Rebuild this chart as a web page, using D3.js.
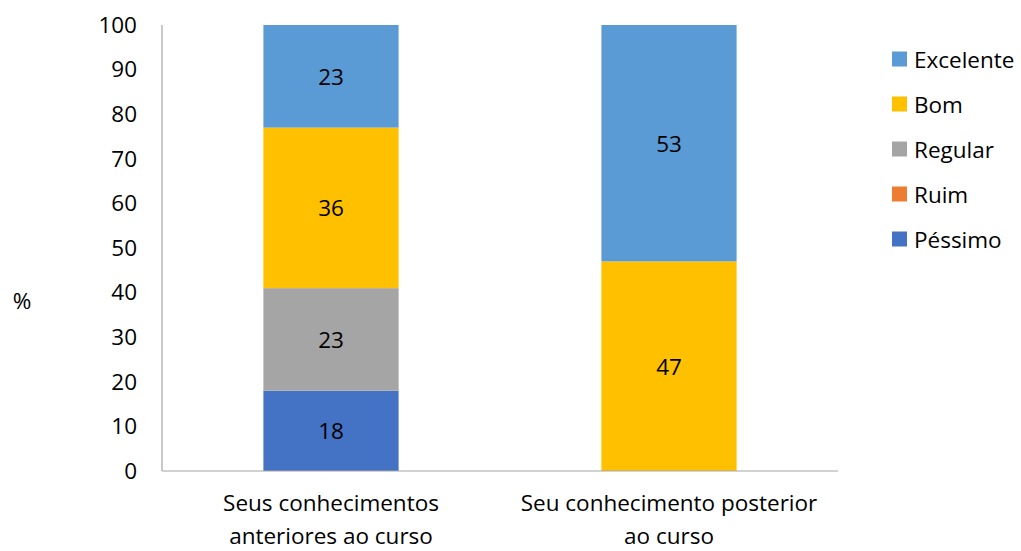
<!DOCTYPE html>
<html><head><meta charset="utf-8">
<script src="https://cdn.jsdelivr.net/npm/d3@7"></script>
<style>body{margin:0;background:#fff}svg{display:block}text{font-family:"Open Sans",sans-serif;fill:#000}</style>
</head><body><svg id="c" width="1021" height="551"></svg>
<script>
const categories = [["Seus conhecimentos","anteriores ao curso"],["Seu conhecimento posterior","ao curso"]];
const seriesNames = ["Péssimo","Ruim","Regular","Bom","Excelente"];
const pessimo = [18, 0];
const ruim = [0, 0];
const regular = [23, 0];
const bom = [36, 47];
const excelente = [23, 53];
const colors = ["#4472C4","#ED7D31","#A5A5A5","#FFC000","#5B9BD5"];
const yTicks = [0,10,20,30,40,50,60,70,80,90,100];

const FS = 22.5;
const values = [pessimo, ruim, regular, bom, excelente];
const rows = categories.map((c,i)=>{const r={idx:i}; seriesNames.forEach((s,j)=>r[s]=values[j][i]); return r;});
const stack = d3.stack().keys(seriesNames)(rows);

const svg = d3.select("#c");
const m = {l:162, r:838, t:25, b:471};
const x = d3.scaleBand().domain(d3.range(categories.length)).range([m.l, m.r]).paddingInner(0.6).paddingOuter(0.3);
const y = d3.scaleLinear().domain([0,100]).range([m.b, m.t]);

// y tick labels
const ya = svg.append("g").attr("transform",`translate(${m.l},0)`).call(d3.axisLeft(y).tickValues(yTicks).tickSize(0).tickPadding(25));
ya.select(".domain").remove();
ya.selectAll("text").attr("font-size",FS).attr("font-family","Open Sans").attr("fill","#000");

// bars
stack.forEach((layer,j)=>{
  svg.append("g").selectAll("rect").data(layer.filter(d=>d[1]-d[0]>0)).join("rect")
    .attr("x",d=>x(d.data.idx)).attr("width",x.bandwidth())
    .attr("y",d=>y(d[1])).attr("height",d=>y(d[0])-y(d[1]))
    .attr("fill",colors[j]);
  svg.append("g").selectAll("text").data(layer.filter(d=>d[1]-d[0]>0)).join("text")
    .attr("x",d=>x(d.data.idx)+x.bandwidth()/2).attr("y",d=>y((d[0]+d[1])/2))
    .attr("text-anchor","middle").attr("dominant-baseline","central")
    .attr("font-size",FS).text(d=>d[1]-d[0]);
});

// axis lines
svg.append("line").attr("x1",m.l).attr("x2",m.l).attr("y1",m.t).attr("y2",m.b).attr("stroke","#a6a6a6").attr("stroke-width",1.2);
svg.append("line").attr("x1",m.l).attr("x2",m.r).attr("y1",m.b).attr("y2",m.b).attr("stroke","#a6a6a6").attr("stroke-width",1.2);

// category labels
categories.forEach((lines,i)=>{
  const t = svg.append("text").attr("text-anchor","middle").attr("font-size",FS)
    .attr("x",x(i)+x.bandwidth()/2);
  lines.forEach((ln,k)=>t.append("tspan").attr("x",x(i)+x.bandwidth()/2).attr("y",511+k*33).text(ln));
});

// y label
svg.append("text").attr("x",22).attr("y",300).attr("text-anchor","middle").attr("dominant-baseline","central").attr("font-size",FS).text("%");

// legend
const legendOrder = ["Excelente","Bom","Regular","Ruim","Péssimo"];
legendOrder.forEach((s,k)=>{
  const cy = 59 + k*45;
  svg.append("rect").attr("x",892).attr("y",cy-7.5).attr("width",15).attr("height",15).attr("fill",colors[seriesNames.indexOf(s)]);
  svg.append("text").attr("x",914).attr("y",cy).attr("dominant-baseline","central").attr("font-size",FS).text(s);
});
</script></body></html>
